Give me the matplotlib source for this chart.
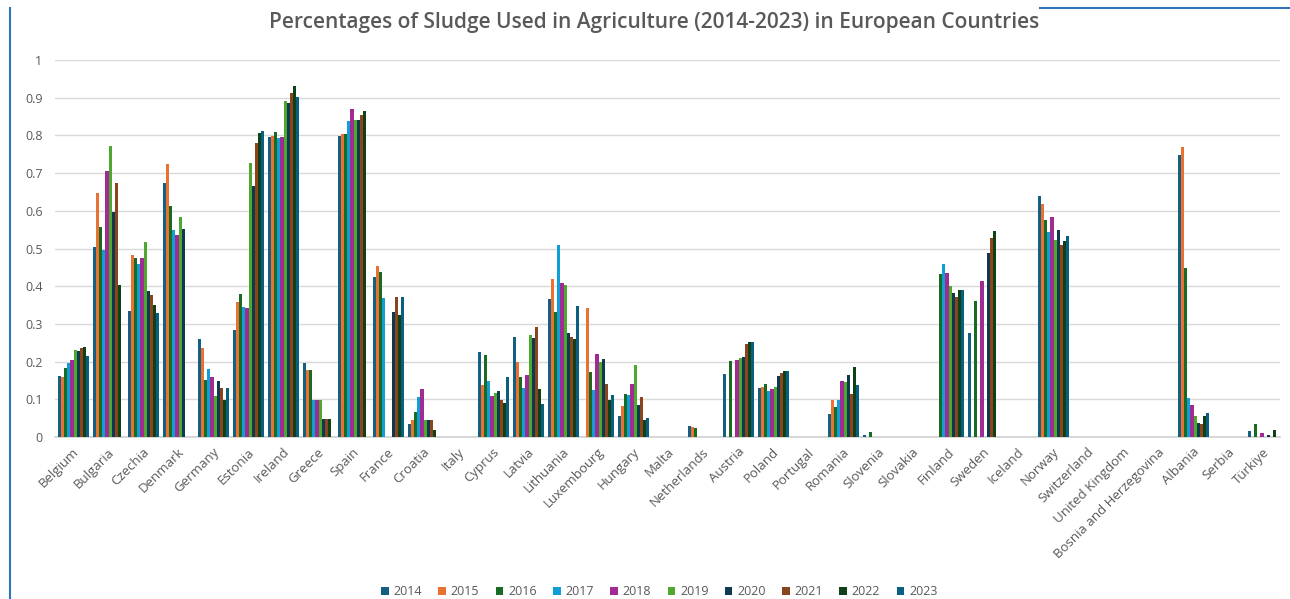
import numpy as np
import matplotlib
matplotlib.use("Agg")
import matplotlib.pyplot as plt
from matplotlib.lines import Line2D

nan = np.nan

countries = ["Belgium", "Bulgaria", "Czechia", "Denmark", "Germany", "Estonia", "Ireland",
             "Greece", "Spain", "France", "Croatia", "Italy", "Cyprus", "Latvia", "Lithuania",
             "Luxembourg", "Hungary", "Malta", "Netherlands", "Austria", "Poland", "Portugal",
             "Romania", "Slovenia", "Slovakia", "Finland", "Sweden", "Iceland", "Norway",
             "Switzerland", "United Kingdom", "Bosnia and Herzegovina", "Albania", "Serbia",
             "Türkiye"]

years = ["2014", "2015", "2016", "2017", "2018", "2019", "2020", "2021", "2022", "2023"]

y2014 = [0.162, 0.504, 0.335, 0.674, 0.261, 0.285, 0.795, 0.196, 0.798, 0.425, 0.035, nan,
         0.225, 0.265, 0.367, nan, 0.056, nan, 0.028, 0.167, 0.131, nan, 0.062, 0.004, nan,
         nan, 0.276, nan, 0.638, nan, nan, nan, 0.747, nan, 0.016]
y2015 = [0.160, 0.646, 0.483, 0.724, 0.236, 0.357, 0.799, 0.179, 0.803, 0.454, 0.046, nan,
         0.138, 0.199, 0.418, 0.343, 0.081, nan, 0.027, nan, 0.133, nan, 0.099, nan, nan,
         nan, nan, nan, 0.619, nan, nan, nan, 0.768, nan, nan]
y2016 = [0.184, 0.557, 0.476, 0.612, 0.150, 0.378, 0.810, 0.179, 0.803, 0.438, 0.066, nan,
         0.217, 0.159, 0.332, 0.172, 0.113, nan, 0.025, 0.202, 0.141, nan, 0.080, 0.013, nan,
         0.433, 0.361, nan, 0.575, nan, nan, nan, 0.448, nan, 0.035]
y2017 = [0.196, 0.496, 0.460, 0.549, 0.181, 0.345, 0.792, 0.097, 0.838, 0.370, 0.106, nan,
         0.149, 0.131, 0.508, 0.124, 0.111, nan, nan, nan, 0.122, nan, 0.099, nan, nan,
         0.458, nan, nan, 0.544, nan, nan, nan, 0.104, nan, nan]
y2018 = [0.205, 0.706, 0.474, 0.535, 0.159, 0.341, 0.796, 0.097, 0.870, nan, 0.127, nan,
         0.108, 0.164, 0.409, 0.221, 0.140, nan, nan, 0.203, 0.126, nan, 0.148, nan, nan,
         0.435, 0.413, nan, 0.584, nan, nan, nan, 0.086, nan, 0.011]
y2019 = [0.230, 0.772, 0.517, 0.584, 0.108, 0.728, 0.891, 0.097, 0.840, nan, 0.044, nan,
         0.118, 0.271, 0.402, 0.198, 0.192, nan, nan, 0.209, 0.133, nan, 0.145, nan, nan,
         0.400, nan, nan, 0.522, nan, nan, nan, 0.056, nan, nan]
y2020 = [0.227, 0.597, 0.388, 0.553, 0.148, 0.666, 0.885, 0.047, 0.842, 0.332, 0.044, nan,
         0.122, 0.263, 0.276, 0.208, 0.084, nan, nan, 0.212, 0.161, nan, 0.164, nan, nan,
         0.382, 0.488, nan, 0.548, nan, nan, nan, 0.037, nan, 0.004]
y2021 = [0.237, 0.674, 0.376, nan, 0.130, 0.779, 0.913, 0.047, 0.853, 0.372, 0.044, nan,
         0.097, 0.292, 0.265, 0.140, 0.106, nan, nan, 0.247, 0.171, nan, 0.115, nan, nan,
         0.371, 0.529, nan, 0.510, nan, nan, nan, 0.035, nan, nan]
y2022 = [0.239, 0.403, 0.350, nan, 0.099, 0.807, 0.931, 0.047, 0.864, 0.323, 0.018, nan,
         0.090, 0.126, 0.261, 0.097, 0.044, nan, nan, 0.252, 0.175, nan, 0.186, nan, nan,
         0.389, 0.546, nan, 0.520, nan, nan, nan, 0.056, nan, 0.019]
y2023 = [0.214, nan, 0.329, nan, 0.130, 0.812, 0.903, nan, nan, 0.372, nan, nan,
         0.159, 0.088, 0.347, 0.112, 0.050, nan, nan, 0.253, 0.175, nan, 0.137, nan, nan,
         0.391, nan, nan, 0.532, nan, nan, nan, 0.064, nan, nan]

series = [y2014, y2015, y2016, y2017, y2018, y2019, y2020, y2021, y2022, y2023]
colors = ["#156082", "#E97132", "#196B24", "#0F9ED5", "#A02B93",
          "#4EA72E", "#0D3A4E", "#8C441E", "#0F4016", "#095F80"]

plt.rcParams["font.family"] = ["Open Sans", "DejaVu Sans"]
grey = "#595959"

fig = plt.figure(figsize=(12.9, 5.99), dpi=100)
ax = fig.add_axes([55 / 1290, 162 / 599, 1225 / 1290, 377 / 599])

x = np.arange(len(countries))
w = 0.09
for i, (vals, c) in enumerate(zip(series, colors)):
    ax.bar(x + (i - 4.5) * w + 0.03, vals, width=w, color=c, label=years[i],
           edgecolor="none", zorder=3)

ax.set_xlim(-0.5, len(countries) - 0.5)
ax.set_ylim(0, 1)
yt = np.round(np.arange(0, 1.01, 0.1), 1)
ax.set_yticks(yt)
ax.set_yticklabels([f"{v:g}" for v in yt], color=grey, fontsize=9)
ax.set_xticks(x)
ax.set_xticklabels(countries, rotation=45, ha="right", rotation_mode="anchor",
                   color=grey, fontsize=9.5)
ax.tick_params(axis="x", length=0, pad=6)
ax.tick_params(axis="y", length=0, pad=9)

ax.grid(axis="y", color="#d9d9d9", linewidth=1.0, zorder=0)
for s in ["top", "right", "left"]:
    ax.spines[s].set_visible(False)
ax.spines["bottom"].set_color("#d0d0d0")
ax.spines["bottom"].set_linewidth(1.2)

fig.text(0.507, 0.962, "Percentages of Sludge Used in Agriculture (2014-2023) in European Countries",
         ha="center", va="center", fontsize=15, fontweight="semibold", color=grey)

fig.legend(loc="center", bbox_to_anchor=(0.511, 0.012), ncol=10, frameon=False,
           fontsize=9, handlelength=0.6, handleheight=0.6, handletextpad=0.4,
           columnspacing=1.3, labelcolor=grey)

# chart frame edges
fig.add_artist(Line2D([10 / 1290, 10 / 1290], [0, 1 - 8 / 599], color="#2E75B6", lw=1.5))
fig.add_artist(Line2D([1040 / 1290, 1], [1 - 8 / 599, 1 - 8 / 599], color="#2E75B6", lw=1.5))

fig.savefig("out.png", dpi=100)
